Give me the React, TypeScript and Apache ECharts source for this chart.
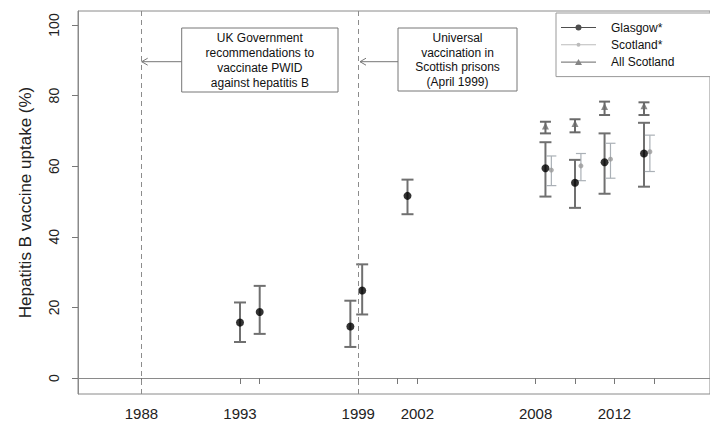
import React, { useEffect, useRef } from "react";
import * as echarts from "echarts";

// ---- data ----
const glasgowYears = [1993, 1994, 1998.6, 1999.2, 2001.5, 2008.5, 2010, 2011.5, 2013.5];
const glasgowValues = [15.7, 18.7, 14.6, 24.8, 51.6, 59.4, 55.3, 61.1, 63.6];
const glasgowLower = [10.2, 12.5, 8.8, 18.0, 46.4, 51.4, 48.2, 52.2, 54.2];
const glasgowUpper = [21.4, 26.1, 21.9, 32.2, 56.2, 66.8, 61.8, 69.3, 72.3];

const scotlandYears = [2008.8, 2010.3, 2011.8, 2013.8];
const scotlandValues = [58.9, 60.1, 62.0, 64.1];
const scotlandLower = [54.5, 55.9, 56.6, 58.5];
const scotlandUpper = [62.9, 63.6, 66.5, 68.8];

const allScotlandYears = [2008.5, 2010, 2011.5, 2013.5];
const allScotlandValues = [71.4, 72.1, 76.9, 77.1];
const allScotlandLower = [69.3, 69.6, 74.5, 74.5];
const allScotlandUpper = [72.6, 73.3, 78.3, 78.1];

const xTickValues = [1988, 1993, 1994, 1999, 2001, 2002, 2008, 2010, 2012, 2014];
const xLabelValues = [1988, 1993, 1999, 2002, 2008, 2012];
const yTickValues = [0, 20, 40, 60, 80, 100];
const eventYears = [1988, 1999];

const seriesNames = ["Glasgow*", "Scotland*", "All Scotland"];
const yAxisTitle = "Hepatitis B vaccine uptake (%)";
const note1 = ["UK Government", "recommendations to", "vaccinate PWID", "against hepatitis B"];
const note2 = ["Universal", "vaccination in", "Scottish prisons", "(April 1999)"];

const FONT = "'Liberation Sans', Arial, sans-serif";

function errorBarSeries(
  name: string,
  years: number[],
  lower: number[],
  upper: number[],
  color: string,
  lineWidth: number,
  capHalf: number
) {
  return {
    type: "custom",
    name,
    silent: true,
    data: years.map((y, i) => [y, lower[i], upper[i]]),
    encode: { x: 0, y: [1, 2] },
    renderItem: (params: any, api: any) => {
      const x = api.value(0);
      const lo = api.coord([x, api.value(1)]);
      const hi = api.coord([x, api.value(2)]);
      const style = { stroke: color, lineWidth };
      return {
        type: "group",
        children: [
          { type: "line", shape: { x1: lo[0], y1: lo[1], x2: hi[0], y2: hi[1] }, style },
          { type: "line", shape: { x1: lo[0] - capHalf, y1: lo[1], x2: lo[0] + capHalf, y2: lo[1] }, style },
          { type: "line", shape: { x1: hi[0] - capHalf, y1: hi[1], x2: hi[0] + capHalf, y2: hi[1] }, style },
        ],
      };
    },
  };
}

const lineDotIcon =
  "path://M0 4.4 H35 V5.6 H0 Z M14.5 5 A3 3 0 1 1 20.5 5 A3 3 0 1 1 14.5 5 Z";
const lineSmallDotIcon =
  "path://M0 4.5 H35 V5.5 H0 Z M15.5 5 A2 2 0 1 1 19.5 5 A2 2 0 1 1 15.5 5 Z";
const lineTriIcon = "path://M0 4.4 H35 V5.6 H0 Z M14 8 L17.5 2 L21 8 Z";

function noteGraphic(lines: string[], box: { x: number; y: number; w: number; h: number }, tipX: number) {
  const cy = 61.7;
  return [
    {
      type: "rect",
      shape: { x: box.x, y: box.y, width: box.w, height: box.h },
      style: { fill: "#fff", stroke: "#777", lineWidth: 1 },
    },
    {
      type: "text",
      x: box.x + box.w / 2,
      y: box.y + box.h / 2 + 0.5,
      style: {
        text: lines.join("\n"),
        align: "center",
        verticalAlign: "middle",
        fontFamily: FONT,
        fontSize: 12,
        lineHeight: 14.7,
        fill: "#111",
      },
    },
    {
      type: "line",
      shape: { x1: box.x, y1: cy, x2: tipX, y2: cy },
      style: { stroke: "#777", lineWidth: 1 },
    },
    {
      type: "polyline",
      shape: { points: [[tipX + 6, cy - 3.5], [tipX, cy], [tipX + 6, cy + 3.5]] },
      style: { stroke: "#777", lineWidth: 1, fill: "none" },
    },
  ];
}

export default function App() {
  const ref = useRef<HTMLDivElement>(null);

  useEffect(() => {
    document.body.style.margin = "0";
    if (!ref.current) return;
    const chart = echarts.init(ref.current, undefined, { renderer: "svg" });

    const option: any = {
      animation: false,
      backgroundColor: "#fff",
      textStyle: { fontFamily: FONT },
      grid: {
        left: 78,
        top: 11,
        right: -2,
        bottom: 34,
        show: true,
        borderColor: "#8a8a8a",
        borderWidth: 1,
        backgroundColor: "transparent",
      },
      xAxis: {
        type: "value",
        min: 1984.78,
        max: 2016.85,
        splitLine: { show: false },
        axisLine: { show: true, lineStyle: { color: "#8a8a8a", width: 1 } },
        axisTick: {
          show: true,
          length: 6,
          customValues: xTickValues,
          lineStyle: { color: "#777" },
        },
        axisLabel: {
          customValues: xLabelValues,
          formatter: (v: number) => String(Math.round(v)),
          fontSize: 15,
          color: "#222",
          margin: 12,
          fontFamily: FONT,
        },
      },
      yAxis: {
        type: "value",
        min: -4.53,
        max: 103.97,
        splitLine: { show: false },
        axisLine: { show: true, lineStyle: { color: "#8a8a8a", width: 1 } },
        axisTick: {
          show: true,
          length: 6,
          customValues: yTickValues,
          lineStyle: { color: "#777" },
        },
        axisLabel: {
          customValues: yTickValues,
          rotate: 90,
          fontSize: 14,
          color: "#222",
          margin: 17,
          fontFamily: FONT,
        },
        name: yAxisTitle,
        nameLocation: "middle",
        nameGap: 44,
        nameTextStyle: { fontSize: 17, color: "#222", fontFamily: FONT },
      },
      legend: {
        orient: "vertical",
        left: 556,
        top: 13,
        padding: [8.5, 120, 8.5, 5],
        borderColor: "#999",
        borderWidth: 1,
        backgroundColor: "#fff",
        itemWidth: 35,
        itemHeight: 10,
        itemGap: 5.3,
        selectedMode: false,
        textStyle: {
          fontSize: 12,
          lineHeight: 10,
          color: "#111",
          fontFamily: FONT,
          padding: [0, 0, 0, 10],
        },
        data: [
          { name: seriesNames[0], icon: lineDotIcon, itemStyle: { color: "#222" } },
          { name: seriesNames[1], icon: lineSmallDotIcon, itemStyle: { color: "#aaa" } },
          { name: seriesNames[2], icon: lineTriIcon, itemStyle: { color: "#666" } },
        ],
      },
      graphic: [
        ...noteGraphic(note1, { x: 181.7, y: 28, w: 156.3, h: 64 }, 141.7),
        ...noteGraphic(note2, { x: 398, y: 28, w: 119, h: 63 }, 360),
      ],
      series: [
        {
          type: "line",
          name: "events",
          data: [],
          silent: true,
          markLine: {
            silent: true,
            symbol: "none",
            label: { show: false },
            lineStyle: { color: "#8c8c8c", type: [5, 4], width: 1 },
            data: eventYears.map((y) => ({ xAxis: y })),
          },
        },
        errorBarSeries("glasgowErr", glasgowYears, glasgowLower, glasgowUpper, "#707070", 2, 6),
        errorBarSeries("scotlandErr", scotlandYears, scotlandLower, scotlandUpper, "#aab0b6", 1.2, 5),
        errorBarSeries("allScotlandErr", allScotlandYears, allScotlandLower, allScotlandUpper, "#6a6a6a", 2, 5.5),
        {
          type: "scatter",
          name: seriesNames[1],
          symbol: "circle",
          symbolSize: 5,
          itemStyle: { color: "#999" },
          data: scotlandYears.map((y, i) => [y, scotlandValues[i]]),
        },
        {
          type: "scatter",
          name: seriesNames[2],
          symbol: "triangle",
          symbolSize: 7,
          itemStyle: { color: "#6a6a6a" },
          data: allScotlandYears.map((y, i) => [y, allScotlandValues[i]]),
        },
        {
          type: "scatter",
          name: seriesNames[0],
          symbol: "circle",
          symbolSize: 8,
          itemStyle: { color: "#000" },
          data: glasgowYears.map((y, i) => [y, glasgowValues[i]]),
        },
      ],
    };

    chart.setOption(option);
    return () => chart.dispose();
  }, []);

  return <div ref={ref} style={{ width: 710, height: 428 }} />;
}
